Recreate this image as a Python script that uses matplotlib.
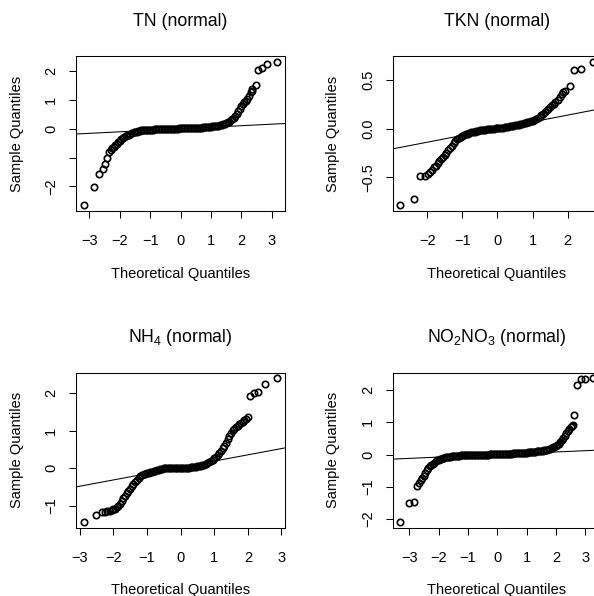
import matplotlib
matplotlib.use("Agg")
import matplotlib.pyplot as plt

# --- data (theoretical quantile, sample quantile) ---
tn_x = [-3.19, -2.86, -2.70, -2.57, -2.49, -2.42, -2.36, -2.30, -2.25,
        -2.20, -2.15, -2.10, -2.05, -2.00, -1.95, -1.90, -1.85, -1.80, -1.75,
        -1.70, -1.65, -1.60, -1.55, -1.50, -1.45, -1.40, -1.35, -1.30, -1.25,
        -1.20, -1.15, -1.10, -1.05, -1.00, -0.95, -0.90, -0.85, -0.80, -0.75,
        -0.70, -0.65, -0.60, -0.55, -0.50, -0.45, -0.40, -0.35, -0.30, -0.25,
        -0.20, -0.15, -0.10, -0.05, 0.00, 0.05, 0.10, 0.15, 0.20, 0.25,
        0.30, 0.35, 0.40, 0.45, 0.50, 0.55, 0.60, 0.65, 0.70, 0.75,
        0.80, 0.85, 0.90, 0.95, 1.00, 1.05, 1.10, 1.15, 1.20, 1.25,
        1.30, 1.35, 1.40, 1.45, 1.50, 1.55, 1.60, 1.65, 1.70, 1.75,
        1.80, 1.85, 1.90, 1.95, 2.00, 2.05, 2.10, 2.15, 2.20,
        2.25, 2.31, 2.34, 2.37, 2.48, 2.56, 2.69, 2.85, 3.17]
tn_y = [-2.66, -2.04, -1.58, -1.39, -1.23, -1.00, -0.80, -0.74, -0.68,
        -0.62, -0.57, -0.52, -0.46, -0.41, -0.37, -0.33, -0.30, -0.26, -0.23,
        -0.20, -0.18, -0.15, -0.13, -0.11, -0.10, -0.08, -0.07, -0.06, -0.05,
        -0.05, -0.04, -0.04, -0.03, -0.03, -0.03, -0.03, -0.02, -0.02, -0.02,
        -0.02, -0.02, -0.01, -0.01, -0.01, -0.01, -0.01, 0.00, 0.00, 0.00,
        0.00, 0.00, 0.00, 0.01, 0.01, 0.01, 0.01, 0.01, 0.02, 0.02,
        0.02, 0.02, 0.02, 0.03, 0.03, 0.03, 0.04, 0.04, 0.04, 0.05,
        0.05, 0.06, 0.06, 0.07, 0.07, 0.08, 0.08, 0.09, 0.10, 0.11,
        0.12, 0.14, 0.15, 0.17, 0.19, 0.22, 0.25, 0.29, 0.33, 0.38,
        0.44, 0.51, 0.60, 0.70, 0.80, 0.86, 0.92, 0.96, 1.02,
        1.14, 1.28, 1.33, 1.37, 1.52, 2.04, 2.10, 2.26, 2.33]

tkn_x = [-2.76, -2.38, -2.19, -2.05, -1.98, -1.92, -1.86, -1.80, -1.75, -1.70,
         -1.65, -1.60, -1.55, -1.50, -1.45, -1.40, -1.35, -1.30, -1.25, -1.20,
         -1.15, -1.10, -1.05, -1.00, -0.95, -0.90, -0.85, -0.80, -0.75, -0.70,
         -0.65, -0.60, -0.55, -0.50, -0.45, -0.40, -0.35, -0.30, -0.25, -0.20,
         -0.15, -0.10, -0.05, 0.00, 0.05, 0.10, 0.15, 0.20, 0.25, 0.30,
         0.35, 0.40, 0.45, 0.50, 0.55, 0.60, 0.65, 0.70, 0.75, 0.80,
         0.85, 0.90, 0.95, 1.00, 1.05, 1.10, 1.15, 1.20, 1.25, 1.30,
         1.35, 1.40, 1.45, 1.50,
         1.55, 1.60, 1.65, 1.71, 1.77, 1.83, 1.87, 1.92, 2.05, 2.17, 2.38, 2.73]
tkn_y = [-0.79, -0.73, -0.49, -0.49, -0.47, -0.45, -0.43, -0.40, -0.38, -0.355,
         -0.33, -0.31, -0.29, -0.27, -0.25, -0.225, -0.20, -0.175, -0.15, -0.13,
         -0.11, -0.095, -0.082, -0.072, -0.063, -0.056, -0.05, -0.044, -0.038, -0.034,
         -0.03, -0.026, -0.022, -0.019, -0.016, -0.013, -0.01, -0.007, -0.005, -0.003,
         -0.001, 0.001, 0.003, 0.005, 0.007, 0.009, 0.011, 0.014, 0.017, 0.02,
         0.023, 0.027, 0.03, 0.034, 0.038, 0.042, 0.046, 0.05, 0.055, 0.06,
         0.065, 0.07, 0.076, 0.083, 0.092, 0.10, 0.112, 0.125, 0.14, 0.155,
         0.17, 0.19, 0.205, 0.225,
         0.24, 0.255, 0.275, 0.30, 0.33, 0.36, 0.375, 0.39, 0.44, 0.60, 0.61, 0.69]

nh4_x = [-2.88, -2.51, -2.33, -2.25, -2.18, -2.11, -2.05,
         -2.00, -1.95, -1.90, -1.85, -1.80, -1.75, -1.70, -1.65, -1.60, -1.55,
         -1.50, -1.45, -1.40, -1.35, -1.30, -1.25, -1.20, -1.15, -1.10, -1.05,
         -1.00, -0.95, -0.90, -0.85, -0.80, -0.75, -0.70, -0.65, -0.60, -0.55,
         -0.50, -0.45, -0.40, -0.35, -0.30, -0.25, -0.20, -0.15, -0.10, -0.05,
         0.00, 0.05, 0.10, 0.15, 0.20, 0.25, 0.30, 0.35, 0.40, 0.45,
         0.50, 0.55, 0.60, 0.65, 0.70, 0.75, 0.80, 0.85, 0.90, 0.95,
         1.00, 1.05, 1.10, 1.15, 1.20, 1.25, 1.30, 1.35, 1.40, 1.45,
         1.50, 1.55, 1.60, 1.65, 1.70, 1.75, 1.80, 1.85, 1.90, 1.95,
         1.99, 2.07, 2.17, 2.30, 2.50, 2.86]
nh4_y = [-1.44, -1.26, -1.18, -1.17, -1.16, -1.145, -1.12,
         -1.10, -1.08, -1.05, -1.01, -0.95, -0.88, -0.81, -0.74, -0.675, -0.61,
         -0.545, -0.48, -0.415, -0.36, -0.31, -0.26, -0.22, -0.19, -0.165, -0.145,
         -0.13, -0.12, -0.11, -0.10, -0.085, -0.07, -0.055, -0.04, -0.025, -0.012,
         -0.005, 0.0, 0.0, 0.0, 0.0, 0.0, 0.0, 0.0, 0.002, 0.004,
         0.006, 0.008, 0.01, 0.012, 0.014, 0.017, 0.02, 0.025, 0.03, 0.037,
         0.045, 0.055, 0.065, 0.08, 0.095, 0.115, 0.135, 0.16, 0.19, 0.22,
         0.26, 0.30, 0.35, 0.40, 0.46, 0.53, 0.60, 0.68, 0.77, 0.86,
         0.94, 1.01, 1.06, 1.10, 1.14, 1.18, 1.21, 1.24, 1.28, 1.31,
         1.36, 1.93, 2.00, 2.03, 2.25, 2.40]

no_x = [-3.30, -3.00, -2.83, -2.73, -2.66, -2.60, -2.55, -2.50, -2.45,
        -2.40, -2.35, -2.30, -2.25, -2.20, -2.15, -2.10, -2.05, -2.00, -1.95,
        -1.90, -1.85, -1.80, -1.75, -1.70, -1.65, -1.60, -1.55, -1.50, -1.45,
        -1.40, -1.35, -1.30, -1.25, -1.20, -1.15, -1.10, -1.05, -1.00, -0.95,
        -0.90, -0.85, -0.80, -0.75, -0.70, -0.65, -0.60, -0.55, -0.50, -0.45,
        -0.40, -0.35, -0.30, -0.25, -0.20, -0.15, -0.10, -0.05, 0.00, 0.05,
        0.10, 0.15, 0.20, 0.25, 0.30, 0.35, 0.40, 0.45, 0.50, 0.55,
        0.60, 0.65, 0.70, 0.75, 0.80, 0.85, 0.90, 0.95, 1.00, 1.05,
        1.10, 1.15, 1.20, 1.25, 1.30, 1.35, 1.40, 1.45, 1.50, 1.55,
        1.60, 1.65, 1.70, 1.75, 1.80, 1.85, 1.90, 1.95, 2.00, 2.05,
        2.10, 2.15, 2.20, 2.25, 2.30,
        2.35, 2.40, 2.45, 2.50, 2.55, 2.59, 2.63, 2.73, 2.85, 3.00, 3.28]
no_y = [-2.10, -1.51, -1.47, -0.98, -0.88, -0.80, -0.72, -0.66, -0.56,
        -0.48, -0.42, -0.37, -0.33, -0.29, -0.25, -0.21, -0.18, -0.16, -0.14,
        -0.125, -0.11, -0.10, -0.09, -0.08, -0.072, -0.065, -0.058, -0.052, -0.047,
        -0.042, -0.038, -0.034, -0.03, -0.027, -0.025, -0.023, -0.021, -0.02, -0.018,
        -0.017, -0.015, -0.014, -0.012, -0.011, -0.009, -0.008, -0.006, -0.005, -0.003,
        -0.002, 0.0, 0.001, 0.003, 0.004, 0.006, 0.007, 0.009, 0.01, 0.012,
        0.014, 0.016, 0.018, 0.02, 0.022, 0.024, 0.026, 0.028, 0.03, 0.033,
        0.036, 0.039, 0.042, 0.045, 0.048, 0.051, 0.054, 0.057, 0.06, 0.065,
        0.07, 0.075, 0.08, 0.085, 0.09, 0.095, 0.10, 0.107, 0.115, 0.122,
        0.13, 0.142, 0.155, 0.167, 0.18, 0.20, 0.22, 0.24, 0.27, 0.30,
        0.34, 0.39, 0.44, 0.51, 0.58,
        0.66, 0.74, 0.80, 0.86, 0.90, 0.92, 1.23, 2.17, 2.34, 2.36, 2.37]

titles = ["TN (normal)", "TKN (normal)", r"NH$_4$ (normal)", r"NO$_2$NO$_3$ (normal)"]
# qqline: (intercept, slope)
qqlines = [(0.0, 0.053), (0.0, 0.070), (0.02, 0.168), (0.0, 0.040)]
xticks = [[-3, -2, -1, 0, 1, 2, 3], [-2, -1, 0, 1, 2],
          [-3, -2, -1, 0, 1, 2, 3], [-3, -2, -1, 0, 1, 2, 3]]
yticks = [[-2, -1, 0, 1, 2], [-0.5, 0.0, 0.5], [-1, 0, 1, 2], [-2, -1, 0, 1, 2]]
yticklabels = [["\u22122", "", "0", "1", "2"], ["\u22120.5", "0.0", "0.5"],
               ["\u22121", "0", "1", "2"], ["\u22122", "\u22121", "0", "1", "2"]]

plt.rcParams["font.family"] = ["Liberation Sans", "DejaVu Sans"]
plt.rcParams["mathtext.fontset"] = "custom"
plt.rcParams["mathtext.rm"] = "Liberation Sans"
plt.rcParams["mathtext.default"] = "regular"

W, H = 594, 596
fig = plt.figure(figsize=(W / 100, H / 100), dpi=100)

# box corners in pixels (left, top) -- same size for every panel
boxes = [(76, 56), (392.7, 56), (76, 372.7), (392.7, 372.7)]
bw, bh = 208.5, 155
xlab_off = [67.3, 67.3, 66.2, 66.2]

data = [(tn_x, tn_y), (tkn_x, tkn_y), (nh4_x, nh4_y), (no_x, no_y)]

for i, (xs, ys) in enumerate(data):
    l, t = boxes[i]
    ax = fig.add_axes([l / W, 1 - (t + bh) / H, bw / W, bh / H])
    ax.plot(xs, ys, "o", mfc="none", mec="black", ms=4.6, mew=1.2)
    ax.margins(0.04)
    b, m = qqlines[i]
    ax.axline((0, b), slope=m, color="black", lw=0.75)

    ax.set_xticks(xticks[i])
    ax.set_xticklabels([str(v).replace("-", "\u2212") for v in xticks[i]])
    ax.set_yticks(yticks[i], labels=yticklabels[i], rotation=90, va="center")
    ax.tick_params(direction="out", length=5.2, width=0.75, labelsize=10.5)
    ax.tick_params(axis="x", pad=11.5)
    ax.tick_params(axis="y", pad=7.5)
    for s in ax.spines.values():
        s.set_linewidth(0.75)

    ax.set_title(titles[i], fontsize=12.7, y=1 + 30.5 / bh, pad=0)
    ax.set_xlabel("Theoretical Quantiles", fontsize=10.5, va="baseline")
    ax.xaxis.set_label_coords(0.5, -xlab_off[i] / bh)
    ax.set_ylabel("Sample Quantiles", fontsize=10.5, va="baseline")
    ax.yaxis.set_label_coords(-55.3 / bw, 0.5)

fig.savefig("out.png", dpi=100)
